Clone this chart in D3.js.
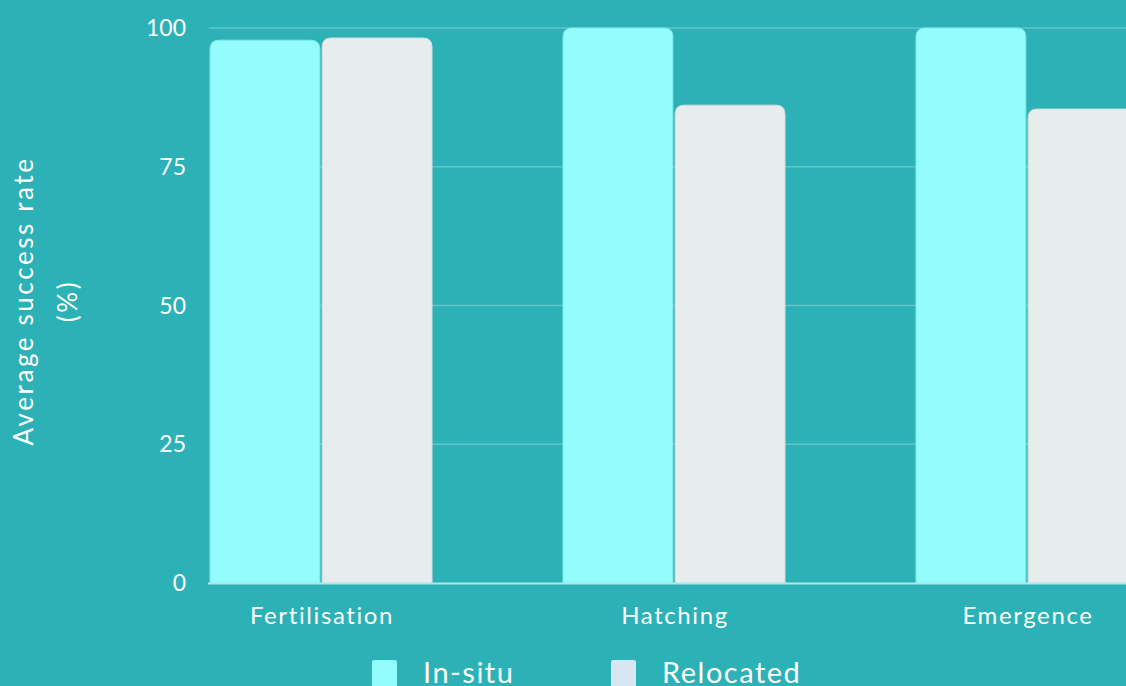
<!DOCTYPE html>
<html>
<head>
<meta charset="utf-8">
<script src="https://cdn.jsdelivr.net/npm/d3@7"></script>
<style>
  html, body { margin: 0; padding: 0; background: #2cb1b6; overflow: hidden; }
  svg { display: block; font-family: "Lato", "Open Sans", sans-serif; }
</style>
</head>
<body>
<svg id="chart" width="1126" height="686"></svg>
<script>
// chart data
const stages = ["Fertilisation", "Hatching", "Emergence"];
const seriesNames = ["In-situ", "Relocated"];
const inSitu = [97.8, 100, 100];
const relocated = [98.2, 86.1, 85.4];
const yTicks = [0, 25, 50, 75, 100];

const barColors = ["#93fcfc", "#e7eded"];
const legendColors = ["#93fcfc", "#d7e6f2"];

const svg = d3.select("#chart");

const x = d3.scaleBand()
    .domain(stages)
    .range([210, 1138])
    .paddingInner(0.371)
    .paddingOuter(0);

const xSub = d3.scaleBand()
    .domain(seriesNames)
    .range([0, x.bandwidth()])
    .paddingInner(0.02);

const y = d3.scaleLinear()
    .domain([0, 100])
    .range([583, 28]);

// gridlines
svg.append("g")
    .selectAll("line")
    .data(yTicks.filter(d => d > 0))
    .enter()
    .append("line")
    .attr("x1", 209)
    .attr("x2", 1126)
    .attr("y1", d => y(d))
    .attr("y2", d => y(d))
    .attr("stroke", "#62c6c9")
    .attr("stroke-width", 1.5);

// y tick labels
svg.append("g")
    .selectAll("text")
    .data(yTicks)
    .enter()
    .append("text")
    .attr("x", 186)
    .attr("y", d => y(d))
    .attr("dy", "0.35em")
    .attr("text-anchor", "end")
    .attr("fill", "#ffffff")
    .attr("font-size", 23)
    .text(d => d);

// bars with rounded tops
function topRounded(x0, y0, w, h, r) {
    r = Math.min(r, h, w / 2);
    return `M${x0},${y0 + h}V${y0 + r}Q${x0},${y0} ${x0 + r},${y0}` +
        `H${x0 + w - r}Q${x0 + w},${y0} ${x0 + w},${y0 + r}V${y0 + h}Z`;
}

const rows = stages.map((s, i) => ({ stage: s, values: [inSitu[i], relocated[i]] }));

const groups = svg.append("g")
    .selectAll("g")
    .data(rows)
    .enter()
    .append("g")
    .attr("transform", d => `translate(${x(d.stage)},0)`);

groups.selectAll("path")
    .data(d => d.values.map((v, j) => ({ name: seriesNames[j], value: v, idx: j })))
    .enter()
    .append("path")
    .attr("d", d => topRounded(xSub(d.name), y(d.value), xSub.bandwidth(), y(0) - y(d.value), 9))
    .attr("fill", d => barColors[d.idx])
    .attr("stroke", d => d.idx === 0 ? "#7eeaea" : "#d2dcdc")
    .attr("stroke-width", 1);

// x axis baseline
svg.append("line")
    .attr("x1", 208)
    .attr("x2", 1126)
    .attr("y1", y(0) + 0.5)
    .attr("y2", y(0) + 0.5)
    .attr("stroke", "#b3e6e8")
    .attr("stroke-width", 2);

// category labels
svg.append("g")
    .selectAll("text")
    .data(stages)
    .enter()
    .append("text")
    .attr("x", d => x(d) + x.bandwidth() / 2 + 1)
    .attr("y", 616)
    .attr("dy", "0.35em")
    .attr("text-anchor", "middle")
    .attr("fill", "#ffffff")
    .attr("font-size", 24)
    .attr("letter-spacing", 1.6)
    .text(d => d);

// y axis title
const yTitle = svg.append("text")
    .attr("transform", "translate(46,301) rotate(-90)")
    .attr("text-anchor", "middle")
    .attr("fill", "#ffffff")
    .attr("font-size", 26)
    .attr("letter-spacing", 2.6);
yTitle.append("tspan").attr("x", 0).attr("dy", "-0.5em").text("Average success rate");
yTitle.append("tspan").attr("x", 0).attr("dy", "1.7em").text("(%)");

// legend
const legendX = [372, 611];
const legend = svg.append("g")
    .selectAll("g")
    .data(seriesNames)
    .enter()
    .append("g")
    .attr("transform", (d, i) => `translate(${legendX[i]},660)`);

legend.append("rect")
    .attr("width", 25)
    .attr("height", 30)
    .attr("rx", 2)
    .attr("fill", (d, i) => legendColors[i]);

legend.append("text")
    .attr("x", 51)
    .attr("y", 23)
    .attr("fill", "#ffffff")
    .attr("font-size", 29)
    .attr("letter-spacing", 1.5)
    .text(d => d);
</script>
</body>
</html>
